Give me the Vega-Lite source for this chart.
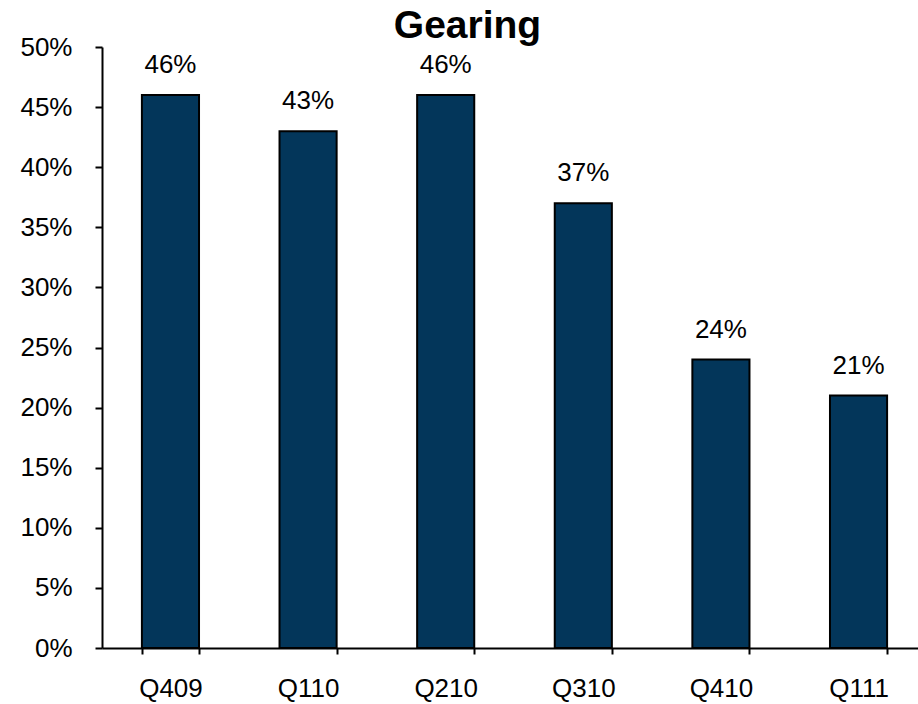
{
  "$schema": "https://vega.github.io/schema/vega-lite/v6.json",
  "width": 825,
  "height": 601,
  "autosize": {"type": "none"},
  "padding": {"left": 102, "top": 47, "right": 0, "bottom": 56},
  "background": "white",
  "title": {"text": "Gearing", "fontSize": 39, "fontWeight": "bold", "font": "Liberation Sans", "color": "black", "offset": -12, "dx": -47, "anchor": "middle"},
  "config": {"view": {"stroke": null}, "font": "Liberation Sans"},
  "data": {"values": [
    {"q": "Q409", "v": 0.46},
    {"q": "Q110", "v": 0.43},
    {"q": "Q210", "v": 0.46},
    {"q": "Q310", "v": 0.37},
    {"q": "Q410", "v": 0.24},
    {"q": "Q111", "v": 0.21}
  ]},
  "encoding": {
    "x": {"field": "q", "type": "nominal", "sort": null, "title": null,
      "scale": {"paddingInner": 0.585, "paddingOuter": 0.29},
      "axis": {"labelAngle": 0, "labelFontSize": 26, "labelColor": "black", "labelPadding": 21, "tickBand": "extent", "tickSize": 6, "tickColor": "black", "tickWidth": 2, "domainColor": "black", "domainWidth": 2, "grid": false}},
    "y": {"field": "v", "type": "quantitative", "title": null,
      "scale": {"domain": [0, 0.5], "nice": false},
      "axis": {"format": ".0%", "values": [0,0.05,0.1,0.15,0.2,0.25,0.3,0.35,0.4,0.45,0.5], "labelFontSize": 26, "labelColor": "black", "labelPadding": 23, "tickSize": 7, "tickColor": "black", "tickWidth": 2, "domainColor": "black", "domainWidth": 2, "grid": false}}
  },
  "layer": [
    {"mark": {"type": "bar", "color": "#03365a", "stroke": "black", "strokeWidth": 2}},
    {"mark": {"type": "text", "fontSize": 26, "color": "black", "dy": -22, "baseline": "alphabetic"},
     "encoding": {"text": {"field": "v", "type": "quantitative", "format": ".0%"}}}
  ]
}
